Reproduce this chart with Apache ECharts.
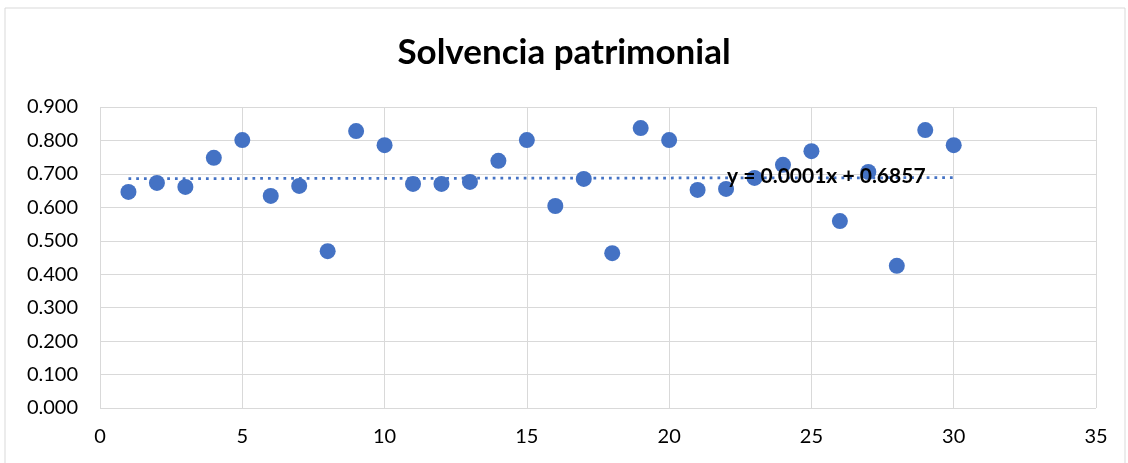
<!DOCTYPE html>
<html>
<head>
<meta charset="utf-8">
<script src="https://cdn.jsdelivr.net/npm/echarts@6/dist/echarts.min.js"></script>
<style>
  html, body { margin: 0; padding: 0; background: #fff; }
  #chart { width: 1128px; height: 463px; }
</style>
</head>
<body>
<div id="chart"></div>
<script>
// datos
const periodos = [1, 2, 3, 4, 5, 6, 7, 8, 9, 10, 11, 12, 13, 14, 15, 16, 17, 18, 19, 20, 21, 22, 23, 24, 25, 26, 27, 28, 29, 30]
const solvencia = [0.646, 0.673, 0.661, 0.748, 0.801, 0.634, 0.664, 0.469, 0.828, 0.786,
  0.670, 0.670, 0.676, 0.739, 0.801, 0.604, 0.685, 0.463, 0.837, 0.801,
  0.652, 0.655, 0.688, 0.727, 0.768, 0.559, 0.706, 0.425, 0.831, 0.786]
// linea de tendencia y = 0.0001x + 0.6857
const tendenciaX = [1, 30]
const pendiente = 0.0001
const intercepto = 0.6857
const ecuacion = 'y = 0.0001x + 0.6857'

const fuente = 'Lato, "Open Sans", sans-serif'
const chart = echarts.init(document.getElementById('chart'))

chart.setOption({
  animation: false,
  textStyle: { fontFamily: fuente },
  title: {
    text: 'Solvencia patrimonial',
    left: 'center',
    top: 30,
    textStyle: { fontSize: 35, fontWeight: 'bold', color: '#000', fontFamily: fuente }
  },
  graphic: [{
    type: 'rect',
    shape: { x: 5, y: 8, width: 1120, height: 470 },
    style: { fill: 'none', stroke: '#d9d9d9', lineWidth: 1 },
    silent: true
  }, {
    type: 'text',
    left: 727,
    top: 166,
    z: 100,
    style: { text: ecuacion, fill: '#000', fontSize: 21, fontWeight: 'bold', fontFamily: fuente }
  }],
  grid: { left: 100, right: 32, top: 107, bottom: 55 },
  xAxis: {
    type: 'value',
    min: 0,
    max: 35,
    interval: 5,
    axisLine: { show: false },
    axisTick: { show: false },
    splitLine: { show: true, lineStyle: { color: '#d9d9d9', width: 1 } },
    axisLabel: { color: '#000', fontSize: 20, margin: 19 }
  },
  yAxis: {
    type: 'value',
    min: 0,
    max: 0.9,
    interval: 0.1,
    axisLine: { show: false },
    axisTick: { show: false },
    splitLine: { show: true, lineStyle: { color: '#d9d9d9', width: 1 } },
    axisLabel: { color: '#000', fontSize: 20, margin: 22, formatter: v => v.toFixed(3) }
  },
  series: [{
    type: 'scatter',
    symbolSize: 16,
    itemStyle: { color: '#4472c4', opacity: 1 },
    data: periodos.map((p, i) => [p, solvencia[i]]),
    z: 3
  }, {
    type: 'line',
    symbol: 'none',
    lineStyle: { color: '#4472c4', width: 2.75, type: [2.75, 5] },
    data: tendenciaX.map(x => [x, pendiente * x + intercepto]),
    z: 2
  }]
})
</script>
</body>
</html>
